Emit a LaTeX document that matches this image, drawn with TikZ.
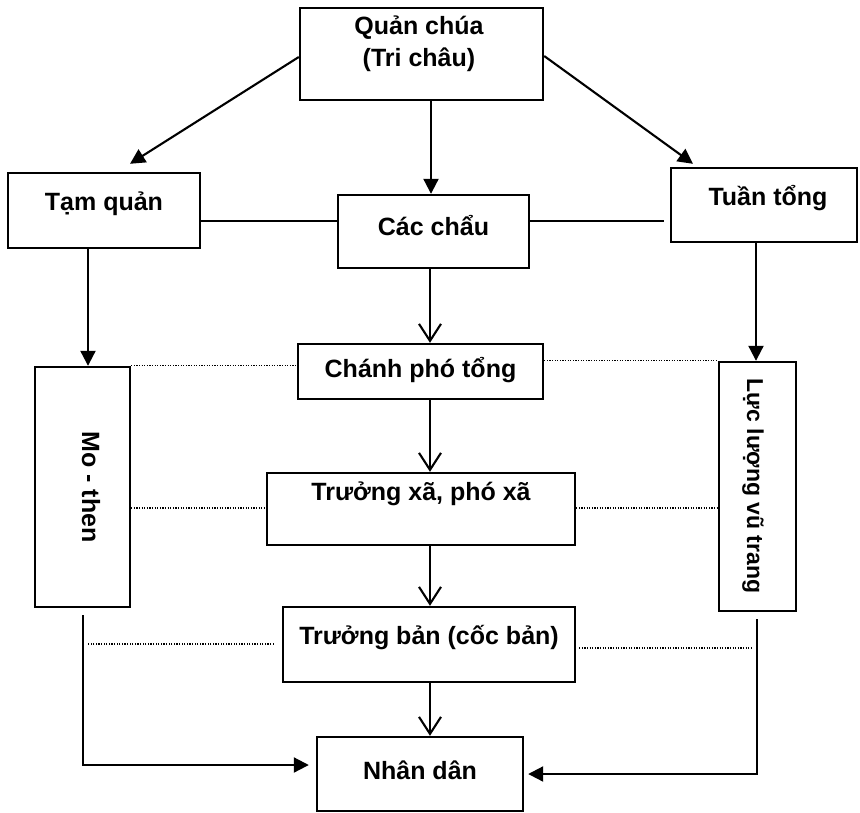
\documentclass[tikz,border=0pt]{standalone}
\usepackage{fontspec}
\setmainfont{Liberation Sans}
\usetikzlibrary{arrows.meta,calc}
\tikzset{
  box/.style={draw, line width=2.4pt, minimum width=#1, inner sep=0pt},
  lbl/.style={inner sep=0pt, font=\fontsize{25}{32}\selectfont\bfseries, text height=17pt, text depth=5pt, align=center},
  conn/.style={line width=2.1pt},
  fa/.style={conn, -{Triangle[length=15pt,width=15pt]}},
  oa/.style={conn, -{Straight Barb[length=17pt,width=22pt,line width=2.1pt]}},
  dots/.style={line width=1.3pt, dash pattern=on 1.2pt off 1.4pt}
}
\begin{document}
\begin{tikzpicture}[x=1pt,y=-1pt]
\useasboundingbox (0,0) rectangle (860,812);
% boxes
\node[box=243pt, minimum height=92pt] (quan) at (421.5,54) {};
\node[box=192pt, minimum height=75pt] (tam) at (104,210.5) {};
\node[box=191pt, minimum height=73pt] (cac) at (433.5,231.5) {};
\node[box=186pt, minimum height=74pt] (tuan) at (764,205) {};
\node[box=245pt, minimum height=55pt] (chanh) at (420.5,371.5) {};
\node[box=95pt, minimum height=240pt] (mo) at (82.5,487) {};
\node[box=77pt, minimum height=249pt] (luc) at (757.5,486.5) {};
\node[box=308pt, minimum height=72pt] (truongxa) at (421,509) {};
\node[box=292pt, minimum height=75pt] (truongban) at (429,644.5) {};
\node[box=206pt, minimum height=74pt] (nhan) at (420,774) {};
% labels
\node[lbl] (tquan) at (419,60) {Quản chúa\\(Tri châu)};
\node[lbl] (ttam) at (104,204) {Tạm quản};
\node[lbl] (tcac) at (433.5,229) {Các chẩu};
\node[lbl] (ttuan) at (768,199) {Tuần tổng};
\node[lbl] (tchanh) at (420.5,371) {Chánh phó tổng};
\node[lbl, rotate=-90] (tmo) at (88,487) {Mo - then};
\node[lbl, rotate=-90, font=\fontsize{23}{28}\selectfont\bfseries] (tluc) at (753,486) {Lực lượng vũ trang};
\node[lbl] (ttruongxa) at (421,494) {Trưởng xã, phó xã};
\node[lbl] (ttruongban) at (429,638) {Trưởng bản (cốc bản)};
\node[lbl] (tnhan) at (420,773) {Nhân dân};
% filled arrows from the top
\draw[fa] (quan.west |- 0,57) -- ($(tam.north -| 130,0)+(0,-8)$);
\draw[fa] (quan.east |- 0,56) -- ($(tuan.north -| 693,0)+(0,-3)$);
\draw[fa] (quan.south -| 431,0) -- (cac.north -| 431,0);
\draw[fa] (tam.south -| 88,0) -- (mo.north -| 88,0);
\draw[fa] (tuan.south -| 756,0) -- (luc.north -| 756,0);
% solid horizontal
\draw[conn] (tam.east |- 0,221) -- (cac.west |- 0,221);
\draw[conn] (cac.east |- 0,221) -- ($(tuan.west |- 0,221)+(-6,0)$);
% open arrows down the middle
\draw[oa] (cac.south -| 430,0) -- (chanh.north -| 430,0);
\draw[oa] (chanh.south -| 430,0) -- (truongxa.north -| 430,0);
\draw[oa] (truongxa.south -| 430,0) -- (truongban.north -| 430,0);
\draw[oa] (truongban.south -| 430,0) -- (nhan.north -| 430,0);
% dotted links
\draw[dots] (mo.north east) -- (chanh.west |- mo.north);
\draw[dots] (chanh.east |- luc.north) -- (luc.north west);
\draw[dots] (mo.east |- 0,508) -- (truongxa.west |- 0,508);
\draw[dots] (truongxa.east |- 0,508) -- (luc.west |- 0,508);
\draw[dots] ($(truongban.west |- 0,644)+(-8,0)$) -- (87,644);
\draw[dots] ($(truongban.east |- 0,648)+(3,0)$) -- (752,648);
% side lines into Nhan dan
\draw[fa] ($(mo.south -| 83,0)+(0,7)$) |- ($(nhan.west |- 0,765)+(-7,0)$);
\draw[fa] ($(luc.south -| 757,0)+(0,7)$) |- ($(nhan.east |- 0,774)+(4,0)$);
\end{tikzpicture}
\end{document}
